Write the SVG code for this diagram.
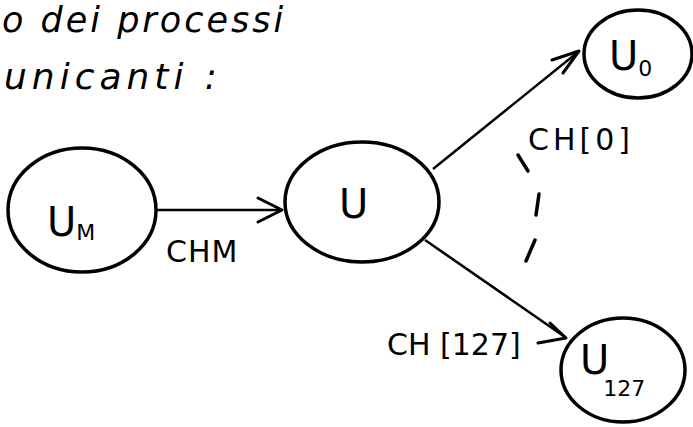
<svg xmlns="http://www.w3.org/2000/svg" width="693" height="427" viewBox="0 0 693 427">
<style>
.node{fill:none;stroke:#000;stroke-width:3.5}
.edge{fill:none;stroke:#000;stroke-width:2.5}
.head{fill:none;stroke:#000;stroke-width:3;stroke-linecap:round;stroke-linejoin:round}
.dash{stroke:#000;stroke-width:3.5;stroke-linecap:round}
text{font-family:"DejaVu Sans","Liberation Sans",sans-serif;fill:#000}
.hand{font-style:italic}
.lbl{font-size:40px}
.sub{font-size:22px}
.elbl{font-size:30px}
</style>
<rect width="693" height="427" fill="#fff"/>
<text class="hand" x="2" y="32" font-size="35" letter-spacing="3">o dei processi</text>
<text class="hand" x="4" y="89" font-size="36" letter-spacing="5">unicanti :</text>
<g id="edges">
<line class="edge" x1="157" y1="210" x2="281" y2="210"/>
<polyline class="head" points="258,198 282,210 258,222"/>
<line class="edge" x1="433" y1="169" x2="578" y2="52"/>
<polyline class="head" points="552,60 579,51 563,73"/>
<line class="edge" x1="425" y1="240" x2="565" y2="337"/>
<polyline class="head" points="550,323 566,338 538,343"/>
<line class="dash" x1="518" y1="155" x2="528" y2="171"/>
<line class="dash" x1="539" y1="194" x2="536" y2="215"/>
<line class="dash" x1="535" y1="240" x2="526" y2="261"/>
<text class="elbl" x="166" y="262" letter-spacing="1">CHM</text>
<text class="elbl" x="528" y="150" font-size="32" letter-spacing="4">CH[0]</text>
<text class="elbl" x="387" y="355">CH [127]</text>
</g>
<g id="UM">
<ellipse class="node" cx="82" cy="210" rx="74" ry="62"/>
<text class="lbl" x="47" y="236">U<tspan class="sub" dy="4" font-size="26">M</tspan></text>
</g>
<g id="U">
<ellipse class="node" cx="362" cy="202" rx="77" ry="60"/>
<text class="lbl" x="339" y="218">U</text>
</g>
<g id="U0">
<ellipse class="node" cx="638" cy="54" rx="54" ry="44"/>
<text class="lbl" x="609" y="70">U<tspan class="sub" dy="6">0</tspan></text>
</g>
<g id="U127">
<ellipse class="node" cx="623" cy="370" rx="62" ry="52"/>
<text class="lbl" x="580" y="374">U<tspan class="sub" dy="22" dx="-6" font-size="24">127</tspan></text>
</g>
</svg>
